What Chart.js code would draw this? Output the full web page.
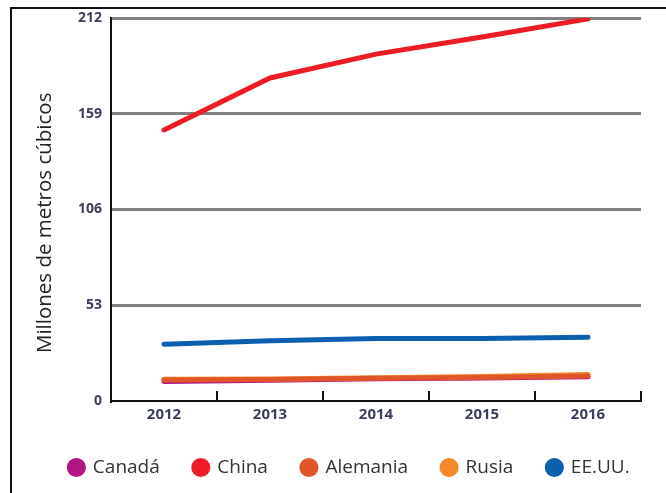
<!DOCTYPE html>
<html lang="es">
<head>
<meta charset="utf-8">
<title>Millones de metros cúbicos</title>
<script src="https://cdn.jsdelivr.net/npm/chart.js@4.4.1/dist/chart.umd.min.js"></script>
<style>
    html, body { margin: 0; padding: 0; background: #fff; }
    #wrap { position: relative; width: 666px; height: 493px; overflow: hidden; }
    /* marco exterior: solo se ve la esquina superior izquierda */
    #frame {
        position: absolute; left: 10px; top: 7px; width: 700px; height: 600px;
        border-left: 2px solid #111; border-top: 2px solid #111;
    }
    #chart { position: absolute; left: 0; top: 0; }
</style>
</head>
<body>
<div id="wrap">
    <div id="frame"></div>
    <canvas id="chart" width="666" height="493"></canvas>
</div>
<script>
// Datos
const years = ['2012', '2013', '2014', '2015', '2016'];
const yTicks = [0, 53, 106, 159, 212];

const canada = [10.8, 11.5, 12.3, 12.7, 13.4];
const china = [150, 178.8, 192, 201.5, 211.5];
const alemania = [11.6, 11.9, 12.6, 13.0, 13.8];
const rusia = [12.0, 12.2, 12.9, 13.5, 14.6];
const eeuu = [31.4, 33.4, 34.6, 34.6, 35.3];

const labelColor = '#3b3f5c';

// Marcas cortas del eje X hacia dentro, entre categorías
const innerTicks = {
    id: 'innerTicks',
    afterDatasetsDraw(chart) {
        const x = chart.scales.x;
        const ctx = chart.ctx;
        ctx.save();
        ctx.strokeStyle = '#111';
        ctx.lineWidth = 2;
        for (let i = 0; i < years.length; i++) {
            const px = Math.round(x.getPixelForValue(i + 0.5));
            ctx.beginPath();
            ctx.moveTo(px, x.top);
            ctx.lineTo(px, x.top - 10);
            ctx.stroke();
        }
        ctx.restore();
    }
};

// Alto fijo de la leyenda y desplazamiento a la derecha
const legendFix = {
    id: 'legendFix',
    beforeInit(chart) {
        const legend = chart.legend;
        const fit = legend.fit;
        legend.fit = function () {
            fit.call(this);
            this.height = 69;
        };
        const draw = legend.draw;
        legend.draw = function () {
            chart.ctx.save();
            chart.ctx.translate(29, 0);
            draw.call(this);
            chart.ctx.restore();
        };
    }
};

function serie(label, data, color, order) {
    return {
        label, data, order,
        borderColor: color,
        backgroundColor: color,
        borderWidth: 5,
        borderCapStyle: 'round',
        pointRadius: 0,
        pointHoverRadius: 0,
        tension: 0
    };
}

new Chart(document.getElementById('chart'), {
    type: 'line',
    data: {
        labels: years,
        datasets: [
            serie('Canadá', canada, '#b01684', 2),
            serie('China', china, '#ee1c25', 4),
            serie('Alemania', alemania, '#e0552a', 0),
            serie('Rusia', rusia, '#f5892a', 1),
            serie('EE.UU.', eeuu, '#0a5fae', 3)
        ]
    },
    options: {
        responsive: false,
        animation: false,
        layout: { padding: { left: 0, right: 25, top: 18, bottom: 0 } },
        scales: {
            x: {
                offset: true,
                grid: { display: false, offset: true },
                border: { display: true, color: '#111', width: 2 },
                ticks: {
                    color: labelColor, padding: -2,
                    font: { family: 'Open Sans', size: 15, weight: 'bold', lineHeight: 1 }
                },
                afterFit(scale) { scale.height = 23; }
            },
            y: {
                min: 0, max: 212,
                afterBuildTicks(scale) { scale.ticks = yTicks.map(v => ({ value: v })); },
                grid: {
                    drawTicks: false,
                    lineWidth: 3,
                    color: ctx => ctx.tick && ctx.tick.value === 0 ? 'rgba(0,0,0,0)' : '#808080'
                },
                border: { display: true, color: '#111', width: 2 },
                ticks: {
                    color: labelColor, padding: 9,
                    font: { family: 'Open Sans', size: 14, weight: 'bold' }
                },
                title: {
                    display: true,
                    text: 'Millones de metros cúbicos     ',
                    color: '#222',
                    padding: { top: 33, bottom: 0 },
                    font: { family: 'Open Sans', size: 20.5 }
                },
                afterFit(scale) {
                    scale.width = 111;
                    scale.paddingTop = 0;
                    scale.paddingBottom = 0;
                }
            }
        },
        plugins: {
            legend: {
                position: 'bottom',
                labels: {
                    usePointStyle: true,
                    pointStyle: 'circle',
                    boxWidth: 14,
                    boxHeight: 10,
                    padding: 34,
                    color: '#333',
                    sort: (a, b) => a.datasetIndex - b.datasetIndex,
                    font: { family: 'Open Sans', size: 19 }
                }
            },
            tooltip: { enabled: false }
        }
    },
    plugins: [innerTicks, legendFix]
});
</script>
</body>
</html>
